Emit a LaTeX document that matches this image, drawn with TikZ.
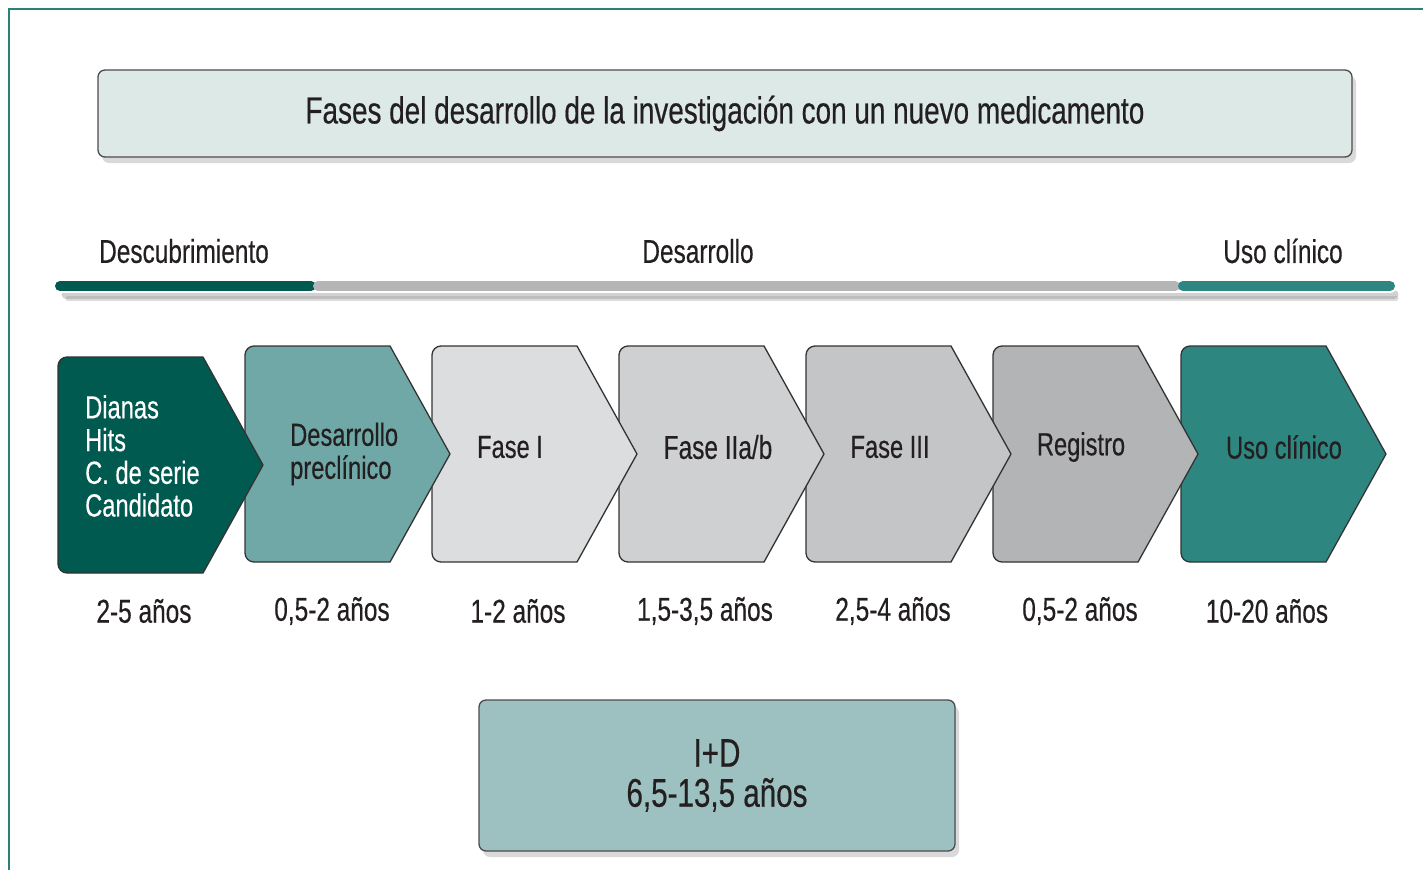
\documentclass[tikz,border=0pt]{standalone}
\usepackage{fontspec}
\setmainfont{Liberation Sans}[FakeStretch=0.74,FakeBold=0.4]
\usetikzlibrary{shadows}
\definecolor{frameteal}{HTML}{2D7F77}
\definecolor{txt}{HTML}{231F20}
\definecolor{titlefill}{HTML}{DDE9E7}
\definecolor{cA}{HTML}{005A50}
\definecolor{cB}{HTML}{6FA8A6}
\definecolor{cC}{HTML}{DCDDDF}
\definecolor{cD}{HTML}{CFD0D2}
\definecolor{cE}{HTML}{C4C5C7}
\definecolor{cF}{HTML}{B3B4B6}
\definecolor{cG}{HTML}{2E8681}
\definecolor{barGrey}{HTML}{B4B5B7}
\definecolor{idfill}{HTML}{9DC0C0}
\newcommand\mychev[4]{%
  \filldraw[chev, fill=#3] (#1+145,#2) -- (#1+205,#2+108) -- (#1+145,#2+216)
    -- (#1+9,#2+216) arc[start angle=270,end angle=180,radius=9pt]
    -- (#1,#2+9) arc[start angle=180,end angle=90,radius=9pt] -- cycle;
  \coordinate (#4) at (#1+100,#2+108);}
\begin{document}
\begin{tikzpicture}[x=1pt,y=-1pt,
  chev/.style={draw=black!80, line width=1.3pt, line join=round},
  lbl/.style={text=txt, font=\fontsize{32}{33}\selectfont, inner sep=0pt},
  dur/.style={text=txt, font=\fontsize{33}{33}\selectfont, inner sep=0pt},
  bigbox/.style={draw=black!70, line width=1.3pt, rounded corners=7pt,
     drop shadow={opacity=0.3, shadow xshift=4pt, shadow yshift=-6pt}},
  bar/.style={line width=10pt, line cap=round},
  barw/.style={line width=14pt, line cap=round, white}]
\useasboundingbox (0,0) rectangle (1423,870);
% frame
\draw[frameteal, line width=2pt] (9,870) -- (9,9) -- (1423,9);
% title
\node[bigbox, fill=titlefill, minimum width=1254pt, minimum height=87pt,
  text=txt, font=\fontsize{37.7}{40}\selectfont] (title) at (725,113.5)
  {Fases del desarrollo de la investigación con un nuevo medicamento};
% timeline bars
\draw[line width=9pt, line cap=round, black!40, opacity=0.45] (66,294) -- (1394,294);
\draw[line width=5pt, line cap=round, black!40, opacity=0.35] (68,298) -- (1396,298);
\draw[barw] (60,286) -- (312,286);
\draw[barw] (316,286) -- (1177,286);
\draw[barw] (1181,286) -- (1390,286);
\draw[bar, cA] (60,286) coordinate (b1s) -- (311,286) coordinate (b1e);
\draw[bar, barGrey] (318,286) coordinate (b2s) -- (1175,286) coordinate (b2e);
\draw[bar, cG] (1183,286) coordinate (b3s) -- (1390,286) coordinate (b3e);
\node[lbl, font=\fontsize{33}{33}\selectfont] (lDesc) at (184,251) {Descubrimiento};
\node[lbl, font=\fontsize{33}{33}\selectfont] (lDes) at (698,251) {Desarrollo};
\node[lbl, font=\fontsize{33}{33}\selectfont] (lUso) at (1283,251) {Uso clínico};
% chevrons (drawn right to left so each earlier tip lies on top)
\mychev{1181}{346}{cG}{c7}
\mychev{993}{346}{cF}{c6}
\mychev{806}{346}{cE}{c5}
\mychev{619}{346}{cD}{c4}
\mychev{432}{346}{cC}{c3}
\mychev{245}{346}{cB}{c2}
\mychev{58}{357}{cA}{c1}
% chevron texts
\node[lbl, text=white, anchor=west, align=left,
  font=\fontsize{32}{32.7}\selectfont] (t1) at (85,456)
  {Dianas\\Hits\\C. de serie\\Candidato};
\node[lbl, anchor=west, align=left,
  font=\fontsize{32}{33}\selectfont] (t2) at (290,454) {Desarrollo\\preclínico};
\node[lbl] (t3) at (510,447) {Fase I};
\node[lbl, font=\fontsize{33}{33}\selectfont] (t4) at (718,447) {Fase IIa/b};
\node[lbl] (t5) at (890,447) {Fase III};
\node[lbl] (t6) at (1081,447) {Registro};
\node[lbl] (t7) at (1284,447) {Uso clínico};
% durations
\node[dur] (d1) at (144,611) {2-5 años};
\node[dur] (d2) at (332,611) {0,5-2 años};
\node[dur] (d3) at (518,611) {1-2 años};
\node[dur] (d4) at (705,611) {1,5-3,5 años};
\node[dur] (d5) at (893,611) {2,5-4 años};
\node[dur] (d6) at (1080,611) {0,5-2 años};
\node[dur] (d7) at (1267,611) {10-20 años};
% I+D box
\node[bigbox, fill=idfill, minimum width=476pt, minimum height=151pt,
  text=txt, align=center, font=\fontsize{40}{40}\selectfont] (id) at (717,775.5)
  {I+D\\6,5-13,5 años};
\end{tikzpicture}
\end{document}
